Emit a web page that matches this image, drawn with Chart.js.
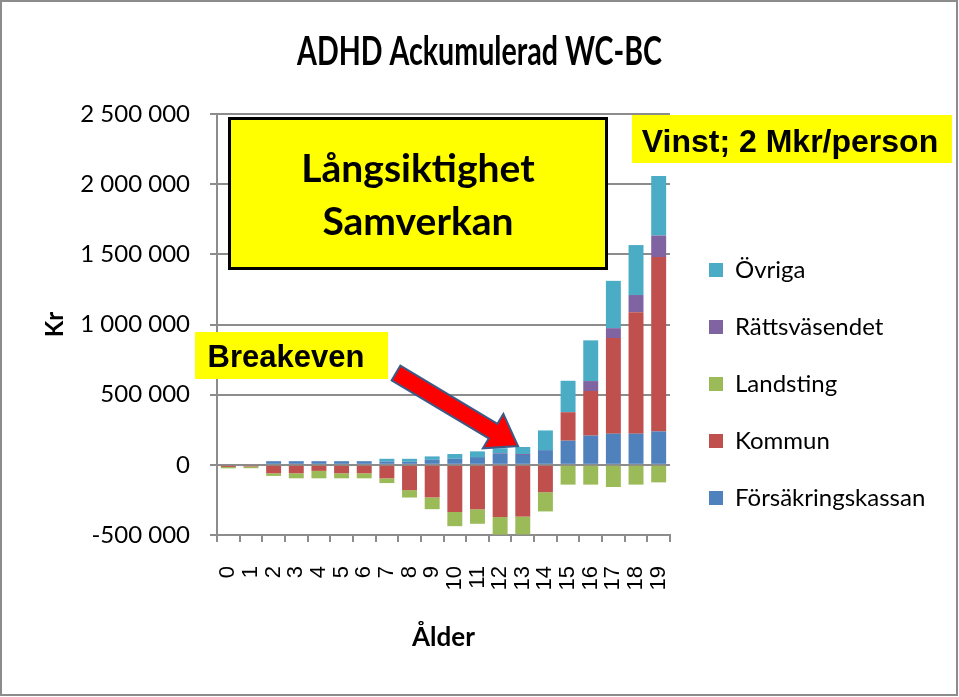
<!DOCTYPE html>
<html><head><meta charset="utf-8">
<script src="https://cdn.jsdelivr.net/npm/chart.js@4/dist/chart.umd.min.js"></script>
<style>html,body{margin:0;padding:0;background:#fff;} #wrap{width:959px;height:697px;position:relative;}</style>
</head><body><div id="wrap"><canvas id="c" width="959" height="697"></canvas></div>
<script>
const categories = ['0','1','2','3','4','5','6','7','8','9','10','11','12','13','14','15','16','17','18','19'];
const forsakringskassan = [0, 0, 26000, 26000, 26000, 26000, 26000, 24000, 22000, 36000, 43000, 55000, 79000, 70000, 105000, 172000, 208000, 222000, 222000, 238000];
const kommun = [-15000, -12000, -60000, -60000, -43000, -60000, -60000, -96000, -180000, -232000, -336000, -317000, -372000, -369000, -195000, 203000, 318000, 681000, 865000, 1243000];
const landsting = [-10000, -12000, -19000, -36000, -53000, -36000, -36000, -34000, -53000, -84000, -101000, -103000, -125000, -127000, -137000, -141000, -141000, -158000, -141000, -125000];
const rattsvasendet = [0, 0, 0, 0, 0, 0, 0, 0, 0, 0, 0, 0, 5000, 7000, 0, 0, 71000, 71000, 123000, 153000];
const ovriga = [0, 0, 0, 0, 0, 0, 0, 19000, 21000, 24000, 34000, 41000, 34000, 50000, 140000, 224000, 290000, 337000, 356000, 424000];
const yTickValues = [-500000, 0, 500000, 1000000, 1500000, 2000000, 2500000];
const chartTitle = 'ADHD Ackumulerad WC-BC';

const fmt = v => {
  const s = Math.abs(v).toString().replace(/\B(?=(\d{3})+(?!\d))/g, ' ');
  return (v < 0 ? '-' : '') + s;
};

const GRID = '#8c8c8c';

const annotations = {
  id: 'annotations',
  afterLayout(chart) {
    const lg = chart.legend;
    if (lg) { lg.left = 676; lg.right = 959; lg.top = 114; lg.bottom = 654; }
  },
  afterDraw(chart) {
    const ctx = chart.ctx;
    ctx.save();
    // Title (condensed)
    ctx.fillStyle = '#000';
    ctx.textAlign = 'center'; ctx.textBaseline = 'alphabetic';
    ctx.font = 'bold 40px Lato, sans-serif';
    const tw = ctx.measureText(chartTitle).width;
    const sx = 365 / tw;
    ctx.save();
    ctx.translate(479.5, 65);
    ctx.scale(sx, 1);
    ctx.fillText(chartTitle, 0, 0);
    ctx.restore();
    // Långsiktighet / Samverkan box
    ctx.fillStyle = '#FFFF00';
    ctx.fillRect(228, 117, 380, 153);
    ctx.lineWidth = 3; ctx.strokeStyle = '#000';
    ctx.strokeRect(229.5, 118.5, 377, 150);
    ctx.fillStyle = '#000';
    ctx.font = 'bold 39px Lato, sans-serif';
    ctx.fillText('Långsiktighet', 418, 182);
    ctx.fillText('Samverkan', 418, 235);
    // Vinst box
    ctx.fillStyle = '#FFFF00';
    ctx.fillRect(632, 115, 320, 48);
    ctx.fillStyle = '#000';
    ctx.font = 'bold 32px "Liberation Sans", Arial, sans-serif';
    ctx.fillText('Vinst; 2 Mkr/person', 790, 152);
    // Breakeven box
    ctx.fillStyle = '#FFFF00';
    ctx.fillRect(195, 332, 193, 47);
    ctx.fillStyle = '#000';
    ctx.font = 'bold 31px "Liberation Sans", Arial, sans-serif';
    ctx.fillText('Breakeven', 286, 367);
    // Arrow
    const T = {x: 396, y: 373}, P = {x: 518, y: 446};
    const dx = P.x - T.x, dy = P.y - T.y, len = Math.hypot(dx, dy);
    const d = {x: dx / len, y: dy / len}, n = {x: -d.y, y: d.x};
    const w = 8.5, h = 20, L = 29;
    const B = {x: P.x - d.x * L, y: P.y - d.y * L};
    const pts = [
      [T.x + n.x * w, T.y + n.y * w], [B.x + n.x * w, B.y + n.y * w], [B.x + n.x * h, B.y + n.y * h],
      [P.x, P.y], [B.x - n.x * h, B.y - n.y * h], [B.x - n.x * w, B.y - n.y * w], [T.x - n.x * w, T.y - n.y * w]
    ];
    ctx.beginPath();
    pts.forEach((p, i) => i ? ctx.lineTo(p[0], p[1]) : ctx.moveTo(p[0], p[1]));
    ctx.closePath();
    ctx.fillStyle = '#FF0000'; ctx.fill();
    ctx.lineWidth = 2; ctx.strokeStyle = '#3B5A86'; ctx.stroke();
    // outer border
    ctx.lineWidth = 2; ctx.strokeStyle = '#8c8c8c';
    ctx.strokeRect(1, 1, 956, 694);
    ctx.restore();
  }
};

const common = {barPercentage: 0.66, categoryPercentage: 1.0, borderWidth: 0};
new Chart(document.getElementById('c'), {
  type: 'bar',
  data: {
    labels: categories,
    datasets: [
      {label: 'Försäkringskassan', data: forsakringskassan, backgroundColor: '#4F81BD', ...common},
      {label: 'Kommun', data: kommun, backgroundColor: '#C0504D', ...common},
      {label: 'Landsting', data: landsting, backgroundColor: '#9BBB59', ...common},
      {label: 'Rättsväsendet', data: rattsvasendet, backgroundColor: '#8064A2', ...common},
      {label: 'Övriga', data: ovriga, backgroundColor: '#4BACC6', ...common}
    ]
  },
  options: {
    responsive: false,
    animation: false,
    devicePixelRatio: 1,
    layout: {padding: {left: 0, right: 69, top: 114, bottom: 0}},
    plugins: {
      title: {display: false},
      legend: {
        position: 'right', reverse: true, maxWidth: 220,
        labels: {boxWidth: 14, boxHeight: 14, padding: 33, color: '#000', font: {family: 'Lato, sans-serif', size: 24}}
      },
      tooltip: {enabled: false}
    },
    scales: {
      x: {
        stacked: true,
        afterFit: s => { s.height = 162; },
        grid: {drawOnChartArea: false, drawTicks: true, tickLength: 7, color: GRID, lineWidth: 2},
        border: {color: GRID, width: 2},
        ticks: {minRotation: 90, maxRotation: 90, autoSkip: false, padding: 24, color: '#000',
          font: {family: '"Liberation Sans", Arial, sans-serif', size: 22}},
        title: {display: true, text: 'Ålder', color: '#000', font: {family: 'Lato, sans-serif', size: 26, weight: 'bold'}, padding: {top: 10, bottom: 44}}
      },
      y: {
        stacked: true, min: -500000, max: 2500000,
        afterFit: s => { s.width = 217; },
        afterBuildTicks: axis => { axis.ticks = yTickValues.map(v => ({value: v})); },
        grid: {color: GRID, lineWidth: 2, tickLength: 7},
        border: {color: GRID, width: 2},
        ticks: {padding: 20, color: '#000', font: {family: 'Lato, sans-serif', size: 24}, callback: v => fmt(v)},
        title: {display: true, text: 'Kr', color: '#000', font: {family: 'Lato, sans-serif', size: 24, weight: 'bold'}, padding: {top: 41, bottom: 10}}
      }
    }
  },
  plugins: [annotations]
});
</script></body></html>
